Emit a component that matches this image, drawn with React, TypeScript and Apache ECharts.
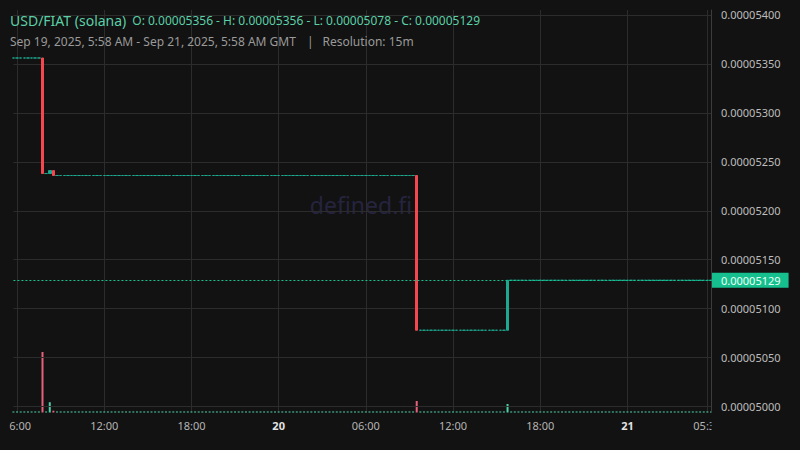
import React, { useEffect, useRef } from 'react';
import * as echarts from 'echarts';

const symbolName = 'USD/FIAT (solana)';
const rangeText = 'Sep 19, 2025, 5:58 AM - Sep 21, 2025, 5:58 AM GMT';
const resolutionText = 'Resolution: 15m';
const watermarkText = 'defined.fi';

// 15m bars, Sep 19 05:45 .. Sep 21 05:45 GMT
const barStartUtc = Date.UTC(2025, 8, 19, 5, 45);
const barCount = 193;
const barMinutes = 15;

// prices in units of 1e-8; bars not listed here had no trades (price carried over)
const openingPrice = 5356;
const tradeBars = [8, 10, 11, 111, 136];
const tradeOpen = [5356, 5238, 5241, 5236, 5078];
const tradeClose = [5238, 5241, 5236, 5078, 5129];
const tradeVolume = [100, 17, 3, 19, 14];
const idleVolume = 1.7;

const timeTickBars = [1, 25, 49, 73, 97, 121, 145, 169, 191];
const timeTickLabels = ['06:00', '12:00', '18:00', '20', '06:00', '12:00', '18:00', '21', '05:30'];
const dayTickLabels = ['20', '21'];

const BG = '#121212';
const UP = '#1ca98f';
const DOWN = '#f5474f';
const FONT = 'Noto Sans';

const fmtPrice = (v: number) => (v / 1e8).toFixed(8);

const App: React.FC = () => {
  const chartRef = useRef<HTMLDivElement>(null);

  useEffect(() => {
    if (!chartRef.current) return;
    const chart = echarts.init(chartRef.current, null, { renderer: 'svg' });

    const times: string[] = [];
    const candles: number[][] = [];
    const volumes: any[] = [];
    let last = openingPrice;
    for (let i = 0; i < barCount; i++) {
      const d = new Date(barStartUtc + i * barMinutes * 60000);
      times.push(
        String(d.getUTCHours()).padStart(2, '0') + ':' + String(d.getUTCMinutes()).padStart(2, '0')
      );
      const k = tradeBars.indexOf(i);
      const o = k >= 0 ? tradeOpen[k] : last;
      const c = k >= 0 ? tradeClose[k] : last;
      const vol = k >= 0 ? tradeVolume[k] : idleVolume;
      candles.push([o, c, Math.min(o, c), Math.max(o, c)]);
      volumes.push({ value: vol, itemStyle: { color: c < o ? '#e6627a' : '#4fcfa9' } });
      last = c;
    }
    const hi = Math.max(...candles.map(b => b[3]));
    const lo = Math.min(...candles.map(b => b[2]));
    const ohlcText =
      'O: ' + fmtPrice(candles[0][0]) + ' - H: ' + fmtPrice(hi) + ' - L: ' + fmtPrice(lo) +
      ' - C: ' + fmtPrice(last);

    const showTick = (index: number) => timeTickBars.includes(index);

    chart.setOption({
      animation: false,
      backgroundColor: BG,
      textStyle: { fontFamily: FONT },
      grid: { left: 10.5, right: 89, top: 10, bottom: 37.5 },
      xAxis: {
        type: 'category',
        data: times,
        boundaryGap: false,
        z: 0,
        axisLine: { show: false },
        axisTick: { show: false },
        axisLabel: {
          interval: (index: number) => showTick(index),
          margin: 7,
          color: '#b4b4b4',
          fontSize: 11,
          fontFamily: FONT,
          formatter: (_v: string, index: number) => {
            const label = timeTickLabels[timeTickBars.indexOf(index)] ?? '';
            return dayTickLabels.includes(label) ? '{day|' + label + '}' : label;
          },
          rich: {
            day: { color: '#e2e2e2', fontWeight: 'bold', fontSize: 11, fontFamily: FONT }
          }
        },
        splitLine: {
          show: true,
          interval: (index: number) => showTick(index),
          lineStyle: { color: '#2c2c2c', width: 1 }
        }
      },
      yAxis: [
        {
          type: 'value',
          position: 'right',
          min: 4994,
          max: 5405,
          splitNumber: 8,
          z: 2,
          axisLine: { show: true, lineStyle: { color: '#3c3c3c' } },
          axisTick: { show: false },
          axisLabel: {
            color: '#bdbdbd',
            fontSize: 11,
            fontFamily: FONT,
            margin: 10,
            showMinLabel: false,
            showMaxLabel: false,
            formatter: (v: number) => fmtPrice(v)
          },
          splitLine: {
            show: true,
            showMinLine: false,
            showMaxLine: false,
            lineStyle: { color: '#2c2c2c', width: 1 }
          }
        },
        {
          type: 'value',
          show: false,
          min: 0,
          max: (v: any) => v.max * 6.65,
          splitLine: { show: false }
        }
      ],
      graphic: [
        {
          type: 'text',
          x: 361,
          y: 205,
          z: 0,
          silent: true,
          style: {
            text: watermarkText,
            fill: '#25243f',
            font: '23px "' + FONT + '"',
            textAlign: 'center',
            textVerticalAlign: 'middle'
          }
        },
        {
          type: 'text',
          x: 10,
          y: 20,
          z: 50,
          style: {
            text: '{sym|' + symbolName + '}{ohlc|' + ohlcText + '}',
            textVerticalAlign: 'middle',
            rich: {
              sym: { fill: '#5ccfa7', fontSize: 14, fontFamily: FONT },
              ohlc: { fill: '#5ccfa7', fontSize: 12, fontFamily: FONT, padding: [0, 0, 0, 6] }
            }
          }
        },
        {
          type: 'text',
          x: 10,
          y: 41,
          z: 50,
          style: {
            text: '{a|' + rangeText + '}{sep||}{a|' + resolutionText + '}',
            textVerticalAlign: 'middle',
            rich: {
              a: { fill: '#9a9a9a', fontSize: 12, fontFamily: FONT },
              sep: { fill: '#9a9a9a', fontSize: 12, fontFamily: FONT, padding: [0, 9, 0, 11] }
            }
          }
        },
        {
          type: 'rect',
          z: 100,
          silent: true,
          shape: { x: 0, y: 414, width: 9.5, height: 30 },
          style: { fill: BG }
        },
        {
          type: 'rect',
          z: 100,
          silent: true,
          shape: { x: 711.5, y: 414, width: 89, height: 30 },
          style: { fill: BG }
        }
      ],
      series: [
        {
          type: 'bar',
          name: 'Volume',
          xAxisIndex: 0,
          yAxisIndex: 1,
          barWidth: 2,
          data: volumes,
          z: 1,
          silent: true
        },
        {
          type: 'candlestick',
          name: symbolName,
          yAxisIndex: 0,
          barWidth: 3,
          data: candles,
          z: 3,
          itemStyle: {
            color: UP,
            color0: DOWN,
            borderColor: UP,
            borderColor0: DOWN,
            borderColorDoji: UP,
            borderWidth: 1
          },
          markLine: {
            silent: true,
            symbol: ['none', 'none'],
            animation: false,
            data: [{ yAxis: last }],
            lineStyle: { color: '#14c490', type: [2, 2], width: 1 },
            label: {
              show: true,
              position: 'end',
              distance: 1,
              formatter: () => fmtPrice(last),
              backgroundColor: '#16bf8e',
              color: '#ecfff7',
              fontSize: 11,
              fontFamily: FONT,
              padding: [2, 8, 2, 9]
            }
          }
        }
      ]
    });

    return () => {
      chart.dispose();
    };
  }, []);

  return (
    <div
      ref={chartRef}
      style={{ position: 'fixed', left: 0, top: 0, width: 800, height: 450, background: BG }}
    />
  );
};

export default App;
